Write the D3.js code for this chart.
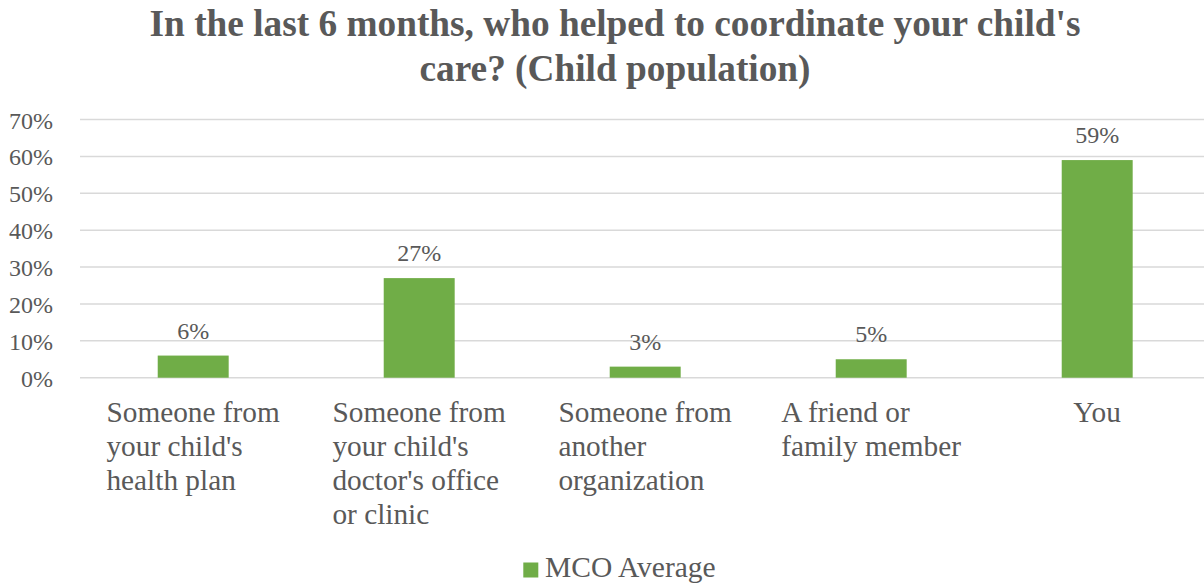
<!DOCTYPE html>
<html>
<head>
<meta charset="utf-8">
<script src="https://cdn.jsdelivr.net/npm/d3@7"></script>
<style>
  html, body { margin: 0; padding: 0; background: #fff; }
  svg { display: block; }
  text { font-family: "Liberation Serif", "Times New Roman", serif; fill: #595959; }
</style>
</head>
<body>
<svg id="chart" width="1204" height="586"></svg>
<script>
// Chart data
const titleLines = ["In the last 6 months, who helped to coordinate your child's", "care? (Child population)"];
const categories = [
  ["Someone from", "your child's", "health plan"],
  ["Someone from", "your child's", "doctor's office", "or clinic"],
  ["Someone from", "another", "organization"],
  ["A friend or", "family member"],
  ["You"]
];
const values = [0.06, 0.27, 0.03, 0.05, 0.59];
const yTicks = [0, 0.1, 0.2, 0.3, 0.4, 0.5, 0.6, 0.7];
const seriesName = "MCO Average";

const svg = d3.select("#chart");
const green = "#70AD47";
const gridColor = "#D9D9D9";

const x = d3.scaleBand().domain(d3.range(categories.length)).range([80.2, 1210.2]).padding(0);
const y = d3.scaleLinear().domain([0, 0.7]).range([377.7, 119.5]);
const barW = x.bandwidth() * 0.314;

// Title
svg.append("g").selectAll("text").data(titleLines).join("text")
  .attr("x", 615).attr("y", (d, i) => 36 + i * 45)
  .attr("text-anchor", "middle")
  .style("font-size", "37.3px").style("font-weight", "bold")
  .text(d => d);

// Gridlines
svg.append("g").selectAll("line").data(yTicks).join("line")
  .attr("x1", 80).attr("x2", 1204)
  .attr("y1", d => y(d)).attr("y2", d => y(d))
  .attr("stroke", gridColor).attr("stroke-width", 1.5);

// Y axis labels
const yAxis = d3.axisLeft(y).tickValues(yTicks).tickFormat(d3.format(".0%")).tickSize(0).tickPadding(0);
const yg = svg.append("g").attr("transform", "translate(53,0)").call(yAxis);
yg.attr("font-family", null);
yg.select(".domain").remove();
yg.selectAll("text").attr("dy", null).attr("y", 8.5)
  .style("font-size", "24px").style("font-family", "'Liberation Serif', serif").attr("fill", "#595959");

// Bars
svg.append("g").selectAll("rect").data(values).join("rect")
  .attr("x", (d, i) => x(i) + x.bandwidth() / 2 - barW / 2)
  .attr("width", barW)
  .attr("y", d => y(d))
  .attr("height", d => y(0) - y(d))
  .attr("fill", green);

// Data labels
svg.append("g").selectAll("text").data(values).join("text")
  .attr("x", (d, i) => x(i) + x.bandwidth() / 2)
  .attr("y", d => y(d) - 17)
  .attr("text-anchor", "middle")
  .style("font-size", "24px")
  .text(d => d3.format(".0%")(d));

// Category labels: left-aligned lines in a block centred under each bar
const catG = svg.append("g");
categories.forEach((lines, i) => {
  const g = catG.append("g");
  const t = g.append("text").style("font-size", "29.3px");
  lines.forEach((ln, j) => {
    t.append("tspan").attr("x", 0).attr("y", 421.7 + j * 34).text(ln);
  });
  const w = t.node().getBBox().width;
  g.attr("transform", `translate(${x(i) + x.bandwidth() / 2 - w / 2},0)`);
});

// Legend
const lg = svg.append("g");
lg.append("rect").attr("x", 523.3).attr("y", 562.5).attr("width", 15).attr("height", 15).attr("fill", green);
lg.append("text").attr("x", 545).attr("y", 577).style("font-size", "29.5px").text(seriesName);
</script>
</body>
</html>
